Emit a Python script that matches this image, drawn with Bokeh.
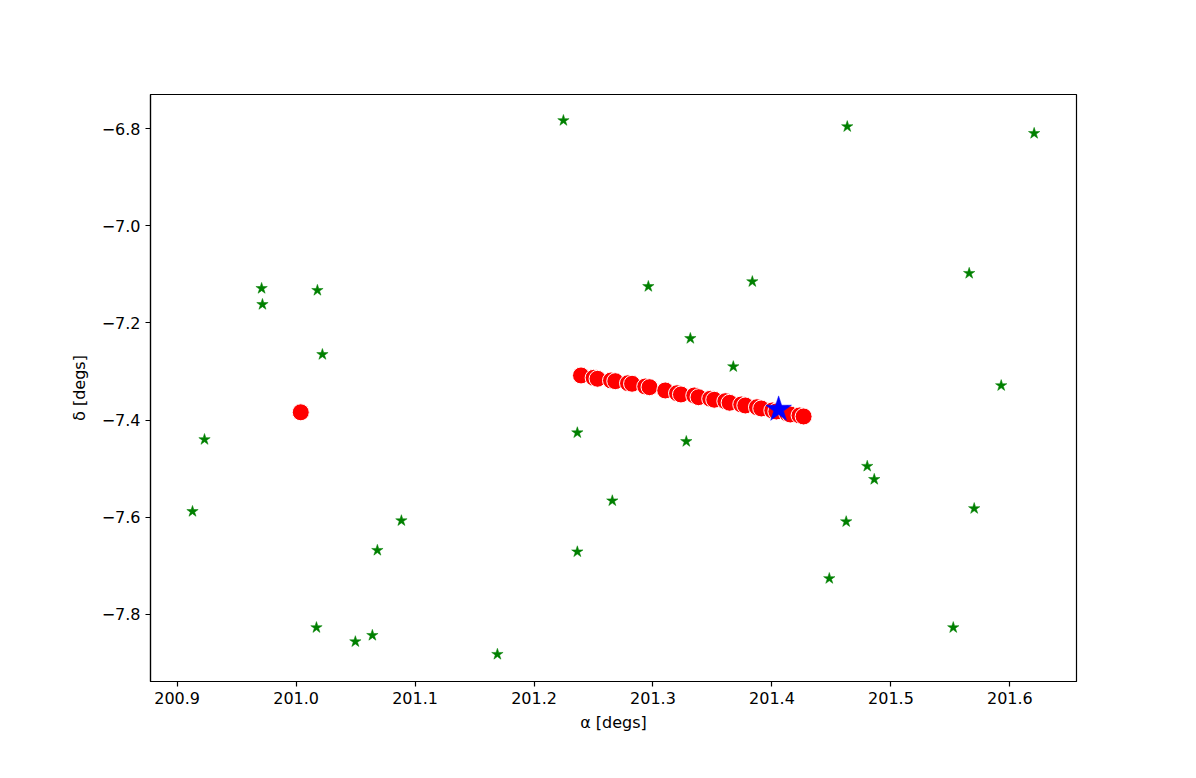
from bokeh.plotting import figure
from bokeh.models import FixedTicker, CustomJSTickFormatter, Range1d
from bokeh.embed import file_html
from bokeh.resources import INLINE

# Field stars (green)
star_ra = [201.2247, 201.4633, 201.6204, 200.9710, 200.9717, 201.0179, 201.0221,
           200.9230, 200.9129, 201.0885, 201.0683, 201.0171, 201.0498, 201.0641,
           201.1692, 201.2364, 201.2364, 201.2658, 201.2961, 201.3314, 201.3280,
           201.3675, 201.3835, 201.5658, 201.5927, 201.4801, 201.4860, 201.4624,
           201.5700, 201.4482, 201.5524]
star_dec = [-6.7835, -6.796, -6.810, -7.129, -7.162, -7.133, -7.265,
            -7.440, -7.588, -7.607, -7.668, -7.827, -7.856, -7.843,
            -7.882, -7.426, -7.671, -7.566, -7.125, -7.232, -7.444,
            -7.290, -7.115, -7.098, -7.329, -7.495, -7.522, -7.609,
            -7.582, -7.726, -7.827]

# Track positions (red)
track_ra = [201.0039, 201.2395, 201.2501, 201.2534, 201.2647, 201.2683, 201.2790, 201.2824,
            201.2935, 201.2971, 201.3103, 201.3202, 201.3235, 201.3347, 201.3383,
            201.3481, 201.3515, 201.3608, 201.3644, 201.3742, 201.3776, 201.3874,
            201.3910, 201.4003, 201.4037, 201.4129, 201.4154, 201.4232, 201.4266]
track_dec = [-7.384, -7.3082, -7.3130, -7.3150, -7.3185, -7.3200, -7.3241, -7.3253,
             -7.3309, -7.3323, -7.3391, -7.3447, -7.3473, -7.3494, -7.3529,
             -7.3562, -7.3582, -7.3611, -7.3644, -7.3679, -7.3700, -7.3735,
             -7.3761, -7.3802, -7.3823, -7.3864, -7.3885, -7.3905, -7.3926]

# Target (blue)
target_ra = [201.4056]
target_dec = [-7.378]

x_ticks = [200.9, 201.0, 201.1, 201.2, 201.3, 201.4, 201.5, 201.6]
y_ticks = [-6.8, -7.0, -7.2, -7.4, -7.6, -7.8]

p = figure(width=1180, height=762, output_backend="svg", toolbar_location=None,
           x_range=Range1d(200.8776, 201.656), y_range=Range1d(-7.938, -6.730),
           min_border_left=150, min_border_right=104, min_border_top=94, min_border_bottom=81)

p.scatter(track_ra, track_dec, marker="circle", size=17, fill_color="red",
          line_color="white", line_width=1)
p.scatter(target_ra, target_dec, marker="star", size=27, fill_color="blue",
          line_color="blue", line_width=0.5)
p.scatter(star_ra, star_dec, marker="star", size=12, fill_color="green",
          line_color="green", line_width=0.5)

p.xgrid.visible = False
p.ygrid.visible = False
p.outline_line_color = "black"
p.outline_line_width = 1.2
p.background_fill_color = "white"
p.border_fill_color = "white"

p.xaxis.ticker = FixedTicker(ticks=x_ticks)
p.yaxis.ticker = FixedTicker(ticks=y_ticks)
p.xaxis.formatter = CustomJSTickFormatter(code="return tick.toFixed(1).replace('-', '\u2212');")
p.yaxis.formatter = CustomJSTickFormatter(code="return tick.toFixed(1).replace('-', '\u2212');")

for ax in (p.xaxis, p.yaxis):
    ax.axis_line_color = "black"
    ax.axis_line_width = 1.2
    ax.major_tick_line_color = "black"
    ax.major_tick_line_width = 1.2
    ax.major_tick_out = 5
    ax.major_tick_in = 0
    ax.minor_tick_line_color = None
    ax.major_label_text_font = "DejaVu Sans"
    ax.major_label_text_font_size = "16px"
    ax.major_label_text_color = "black"
    ax.axis_label_text_font = "DejaVu Sans"
    ax.axis_label_text_font_size = "16px"
    ax.axis_label_text_font_style = "normal"
    ax.axis_label_text_color = "black"

p.xaxis.axis_label = "α [degs]"
p.yaxis.axis_label = "δ [degs]"
p.xaxis.major_label_standoff = 5
p.yaxis.major_label_standoff = 5
p.xaxis.axis_label_standoff = 6
p.yaxis.axis_label_standoff = 10

open("out.html", "w").write(file_html(p, INLINE))
